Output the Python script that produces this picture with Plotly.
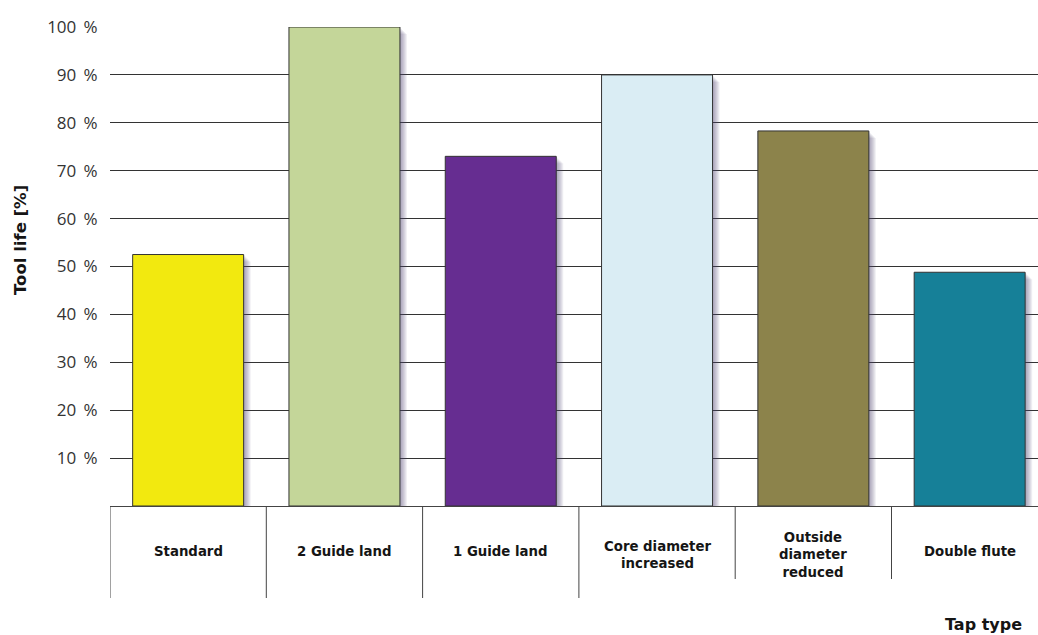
import plotly.graph_objects as go

# Tool life of different tap designs, relative to the best design
tap_types = ["Standard", "2 Guide land", "1 Guide land",
             "Core diameter<br>increased", "Outside<br>diameter<br>reduced", "Double flute"]
tool_life = [52.5, 100, 73, 90, 78.3, 48.8]
bar_colors = ["#F2E90F", "#C4D699", "#662D91", "#DAEDF4", "#8C834B", "#168098"]
y_ticks = [10, 20, 30, 40, 50, 60, 70, 80, 90, 100]
y_tick_labels = [f"{v}&nbsp;&#8201;%" for v in y_ticks]

W, H = 1038, 635
ML, MR, MT, MB = 110, 0, 27, 129
plot_w = W - ML - MR
plot_h = H - MT - MB
base_px = MT + plot_h     # pixel row of the value axis baseline
band_px = 156.3           # width of one category band in pixels
bar_w = 0.71              # bar width in category units
px = 1.0 / band_px        # one pixel in category units
py = 100.0 / plot_h       # one pixel in value units

xs = list(range(len(tap_types)))
fig = go.Figure()

# soft drop shadow built from stacked translucent copies of the bars
for k in range(1, 8):
    fig.add_trace(go.Bar(
        x=xs, y=[v - k * py for v in tool_life],
        width=bar_w, offset=-bar_w / 2 + k * px,
        marker=dict(color="rgba(85,75,115,0.085)", line=dict(width=0)),
        hoverinfo="skip", showlegend=False,
    ))

fig.add_trace(go.Bar(
    x=xs, y=tool_life, width=bar_w, offset=-bar_w / 2,
    marker=dict(color=bar_colors, line=dict(color="#333333", width=1)),
    showlegend=False,
))

# category box below the axis
shapes = []
for i in range(len(tap_types)):
    depth = 92 if i < 4 else 73
    shapes.append(dict(type="line", xref="x", yref="paper",
                       x0=i - 0.5, x1=i - 0.5, y0=0, y1=-depth / plot_h,
                       line=dict(color="#444444", width=1)))

annotations = []
for i, name in enumerate(tap_types):
    label_y = 555 if "<br>" in name else 551
    annotations.append(dict(
        x=i, xref="x", y=-(label_y - base_px) / plot_h, yref="paper",
        text=name, showarrow=False, yanchor="middle", xanchor="center",
        font=dict(family="DejaVu Sans", size=13.3, color="#151515", weight="bold"),
    ))

annotations.append(dict(
    x=(20 - ML) / plot_w, xref="paper", y=(base_px - 240) / plot_h, yref="paper",
    text="Tool life [%]", textangle=-90, showarrow=False,
    xanchor="center", yanchor="middle",
    font=dict(family="DejaVu Sans", size=16.5, color="#151515", weight="bold"),
))
annotations.append(dict(
    x=(983 - ML) / plot_w, xref="paper", y=-(624 - base_px) / plot_h, yref="paper",
    text="Tap type", showarrow=False, xanchor="center", yanchor="middle",
    font=dict(family="DejaVu Sans", size=16, color="#151515", weight="bold"),
))

fig.update_layout(
    width=W, height=H,
    margin=dict(l=ML, r=MR, t=MT, b=MB, pad=0),
    paper_bgcolor="white", plot_bgcolor="white",
    barmode="overlay",
    shapes=shapes, annotations=annotations,
    xaxis=dict(
        range=[-0.5, -0.5 + plot_w / band_px],
        showticklabels=False, ticks="", showgrid=False, zeroline=False,
        showline=True, linecolor="#444444", linewidth=1,
    ),
    yaxis=dict(
        range=[0, 100], tickvals=y_ticks, ticktext=y_tick_labels,
        showgrid=True, gridcolor="#333333", gridwidth=1, zeroline=False,
        showline=False, ticks="outside", ticklen=8, tickcolor="rgba(0,0,0,0)",
        tickfont=dict(family="Open Sans", size=17, color="#333333"),
    ),
)

fig.write_html("out.html")
